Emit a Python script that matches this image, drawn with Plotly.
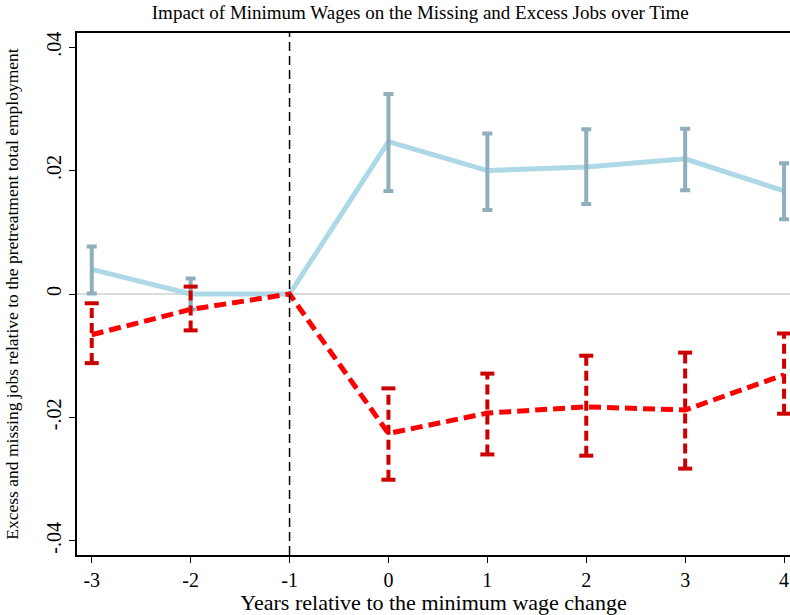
import plotly.graph_objects as go

years = [-3, -2, -1, 0, 1, 2, 3, 4]
tick_text_x = ["-3", "-2", "-1", "0", "1", "2", "3", "4"]

# Excess jobs (blue)
excess = [0.0040, 0.0000, 0.0000, 0.0247, 0.0200, 0.0206, 0.0219, 0.0167]
excess_hi = [0.0077, 0.0025, None, 0.0324, 0.0260, 0.0267, 0.0268, 0.0212]
excess_lo = [0.0001, -0.0025, None, 0.0167, 0.0136, 0.0146, 0.0168, 0.0121]

# Missing jobs (red)
missing = [-0.0066, -0.0025, 0.0000, -0.0226, -0.0193, -0.0183, -0.0188, -0.0131]
missing_hi = [-0.0015, 0.0012, None, -0.0153, -0.0129, -0.0100, -0.0095, -0.0064]
missing_lo = [-0.0112, -0.0059, None, -0.0301, -0.0260, -0.0262, -0.0283, -0.0194]

y_tickvals = [-0.04, -0.02, 0, 0.02, 0.04]
y_ticktext = ["-.04", "-.02", "0", ".02", ".04"]

title_text = "Impact of Minimum Wages on the Missing and Excess Jobs over Time"
x_title = "Years relative to the minimum wage change"
y_title = "Excess and missing jobs relative to the pretreatment total employment"

FONT = "Liberation Serif"

fig = go.Figure()

# blue line
fig.add_trace(go.Scatter(x=years, y=excess, mode="lines",
                         line=dict(color="#add8e6", width=5), hoverinfo="skip"))

# blue error bars
bx, by, bup, bdn = [], [], [], []
for xv, yv, h, l in zip(years, excess, excess_hi, excess_lo):
    if h is None:
        continue
    bx.append(xv); by.append(yv); bup.append(h - yv); bdn.append(yv - l)
fig.add_trace(go.Scatter(x=bx, y=by, mode="markers",
                         marker=dict(size=1, color="rgba(0,0,0,0)"),
                         error_y=dict(type="data", symmetric=False, array=bup, arrayminus=bdn,
                                      color="#8eafbb", thickness=4, width=5),
                         hoverinfo="skip"))

# red error bars (dashed)
rx, ry, cx, cy = [], [], [], []
for xv, h, l in zip(years, missing_hi, missing_lo):
    if h is None:
        continue
    rx += [xv, xv, None]; ry += [l, h, None]
    cx += [xv, xv]; cy += [l, h]
fig.add_trace(go.Scatter(x=rx, y=ry, mode="lines",
                         line=dict(color="#cc0000", width=4, dash="10px,5px"), hoverinfo="skip"))
fig.add_trace(go.Scatter(x=cx, y=cy, mode="markers",
                         marker=dict(symbol="line-ew", size=10,
                                     line=dict(color="#cc0000", width=4)), hoverinfo="skip"))

# red line
fig.add_trace(go.Scatter(x=years, y=missing, mode="lines",
                         line=dict(color="#ff0000", width=5, dash="12px,6px"), hoverinfo="skip"))

fig.add_shape(type="line", xref="paper", yref="y", x0=0, x1=1, y0=0, y1=0,
              line=dict(color="#b8b8b8", width=1), layer="below")
fig.add_shape(type="line", xref="x", yref="paper", x0=-1, x1=-1, y0=0, y1=1,
              line=dict(color="black", width=1.5, dash="9px,5px"), layer="above")

fig.update_layout(
    width=790, height=615,
    margin=dict(l=77, r=0, t=33, b=60),
    paper_bgcolor="white", plot_bgcolor="white",
    showlegend=False,
    font=dict(family=FONT, color="black"),
    title=dict(text=title_text, x=0.532, xanchor="center", y=0.99, yanchor="top",
               font=dict(family=FONT, size=19, color="black")),
    xaxis=dict(range=[-3.149, 4.06], tickvals=years, ticktext=tick_text_x,
               showgrid=False, zeroline=False, showline=True, linecolor="black", linewidth=1.5,
               mirror=True, ticks="outside", ticklen=6, tickwidth=1.2, tickcolor="black",
               tickfont=dict(size=20),
               title=dict(text=x_title, font=dict(size=22), standoff=2)),
    yaxis=dict(range=[-0.0423, 0.0423], tickvals=y_tickvals, ticktext=y_ticktext,
               tickangle=-90,
               showgrid=False, zeroline=False, showline=True, linecolor="black", linewidth=1.5,
               mirror=False, ticks="outside", ticklen=6, tickwidth=1.2, tickcolor="black",
               tickfont=dict(size=20),
               title=dict(text=y_title, font=dict(size=17.5), standoff=20)),
)

fig.write_html("out.html")
